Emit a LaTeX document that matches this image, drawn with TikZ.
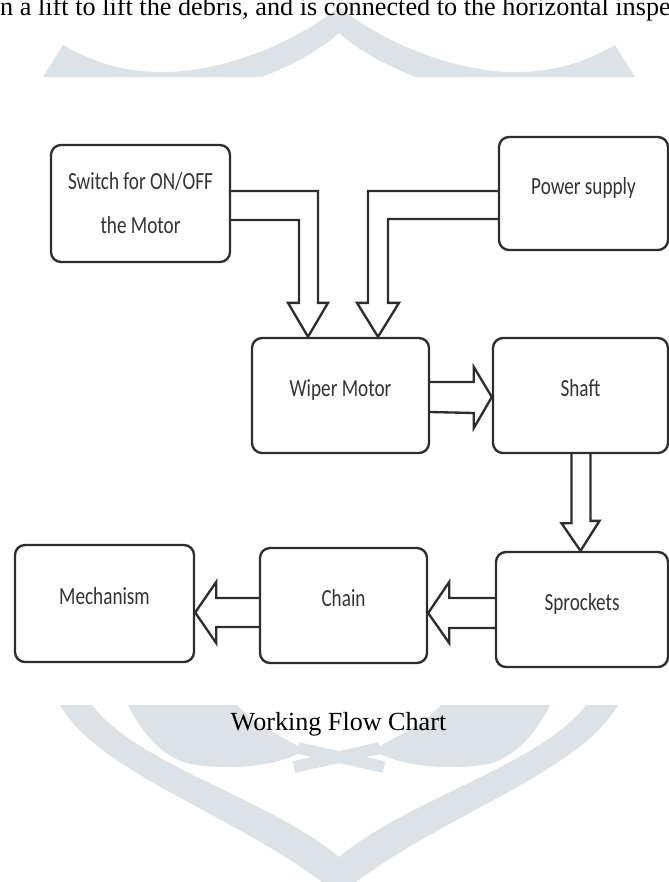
\documentclass[tikz,border=0pt]{standalone}
\usepackage{fontspec}
\setmainfont{Liberation Serif}
\newfontfamily\boxfont{Carlito}
\usepackage{graphicx}
\usepackage{tikz}
\usetikzlibrary{positioning}
\usetikzlibrary{calc}
\definecolor{wmark}{RGB}{220,226,230}
\definecolor{boxline}{RGB}{45,45,45}
\newcommand{\narrowtext}[1]{\scalebox{0.78}[1]{#1}}

\begin{document}
\begin{tikzpicture}[x=0.03cm, y=-0.03cm,
			internal/.style={draw=boxline, rectangle, rounded corners=0.3cm, line width=2pt, inner sep=0pt,
				font=\boxfont\fontsize{21}{37.6}\selectfont, text=black!80},
			oneline/.style={internal, text height=14pt, text depth=12pt},
			hollow/.style={draw=boxline, line width=2pt, line join=miter}]
			\useasboundingbox (0,0) rectangle (669,882);
			\clip (0,0) rectangle (669,882);
			
			% watermark behind the page
			\fill[wmark] (43,77) -- (63,45) .. controls (100,66) and (130,72) .. (164,72) .. controls (220,72) and (292,45) .. (339,7)
				.. controls (386,45) and (458,72) .. (514,72) .. controls (548,72) and (578,66) .. (615,45) -- (635,77) -- (416,77)
				.. controls (388,66) and (360,52) .. (339,33) .. controls (318,52) and (290,66) .. (262,77) -- cycle;
			\fill[wmark] (60,705) .. controls (100,775) and (240,815) .. (339,895) .. controls (438,815) and (578,775) .. (618,705) -- (586,705)
				.. controls (540,765) and (410,798) .. (339,857) .. controls (268,798) and (138,765) .. (92,705) -- cycle;
			\fill[wmark] (128,705) .. controls (145,740) and (170,762) .. (196,765) .. controls (235,770) and (280,766) .. (305,750)
				.. controls (285,738) and (255,725) .. (237,705) -- cycle;
			\fill[wmark] (550,705) .. controls (533,740) and (508,762) .. (482,765) .. controls (443,770) and (398,766) .. (373,750)
				.. controls (393,738) and (423,725) .. (441,705) -- cycle;
			\draw[wmark, line width=10pt] (298,748) -- (384,767);
			\draw[wmark, line width=10pt] (380,748) -- (294,767);
			
			\node[anchor=base west, inner sep=0pt, font=\fontsize{22.4}{27}\selectfont] (toptext) at (0,15) {n a lift to lift the debris, and is connected to the horizontal inspe};
			
			\node[internal, align=center, minimum width=5.37cm, minimum height=3.51cm](node1) at (140.5, 203.5) {\narrowtext{Switch for ON/OFF}\\\narrowtext{the Motor}};
			\node[oneline, minimum width=5.07cm, minimum height=3.39cm](node2) at (583.5, 193.5) {\narrowtext{Power supply}};
			\node[oneline, minimum width=5.31cm, minimum height=3.45cm](node3) at (340.5, 395.5) {\narrowtext{Wiper Motor}};
			\node[oneline, minimum width=5.25cm, minimum height=3.45cm](node4) at (580.5, 395.5) {\narrowtext{Shaft}};
			\node[oneline, minimum width=5.16cm, minimum height=3.45cm](node5) at (582, 609.5) {\narrowtext{Sprockets}};
			\node[oneline, minimum width=5.01cm, minimum height=3.45cm](node6) at (343.5, 605.5) {\narrowtext{Chain}};
			\node[oneline, minimum width=5.37cm, minimum height=3.51cm](node7) at (104.5, 603.5) {\narrowtext{Mechanism}};
			
			% hollow block arrows
			\draw[hollow] ($(node1.east)+(0,-12.5)$) -| ($(node3.north)+(-22.5,-34)$) -- ++(10,0) -- ($(node3.north)+(-32.5,0)$)
				-- ++(-20,-34) -- ++(11,0) |- ($(node1.east)+(0,16.5)$);
			\draw[hollow] ($(node2.west)+(0,-2.5)$) -| ($(node3.north)+(27.5,-34)$) -- ++(-11,0) -- ($(node3.north)+(37.5,0)$)
				-- ++(21,-34) -- ++(-11,0) |- ($(node2.west)+(0,25.5)$);
			\draw[hollow] ($(node3.east)+(0,-13.5)$) -- ($(node4.west)+(-18,-13.5)$) -- ++(0,-15) -- ($(node4.west)+(0,1.5)$)
				-- ++(-18,31) -- ++(0,-15) -- ($(node3.east)+(0,16.5)$);
			\draw[hollow] ($(node4.south)+(-9,0)$) -- ++(0,69) -- ++(-10,0) -- ($(node5.north)+(-1.5,0)$)
				-- ++(19,-30) -- ++(-9,0) -- ($(node4.south)+(10,0)$);
			\draw[hollow] ($(node5.west)+(0,-11.5)$) -- ($(node6.east)+(21,-7.5)$) -- ++(0,-16) -- ($(node6.east)+(0,7.5)$)
				-- ++(21,30) -- ++(0,-15) -- ($(node5.west)+(0,18.5)$);
			\draw[hollow] ($(node6.west)+(0,-7.5)$) -- ($(node7.east)+(21,-5.5)$) -- ++(0,-16) -- ($(node7.east)+(0,9)$)
				-- ++(21,30.5) -- ++(0,-16) -- ($(node6.west)+(0,21.5)$);
			
			\node[anchor=base, inner sep=0pt, font=\fontsize{22.3}{27}\selectfont] (caption) at (338.5, 730) {Working Flow Chart};
		\end{tikzpicture}
\end{document}
